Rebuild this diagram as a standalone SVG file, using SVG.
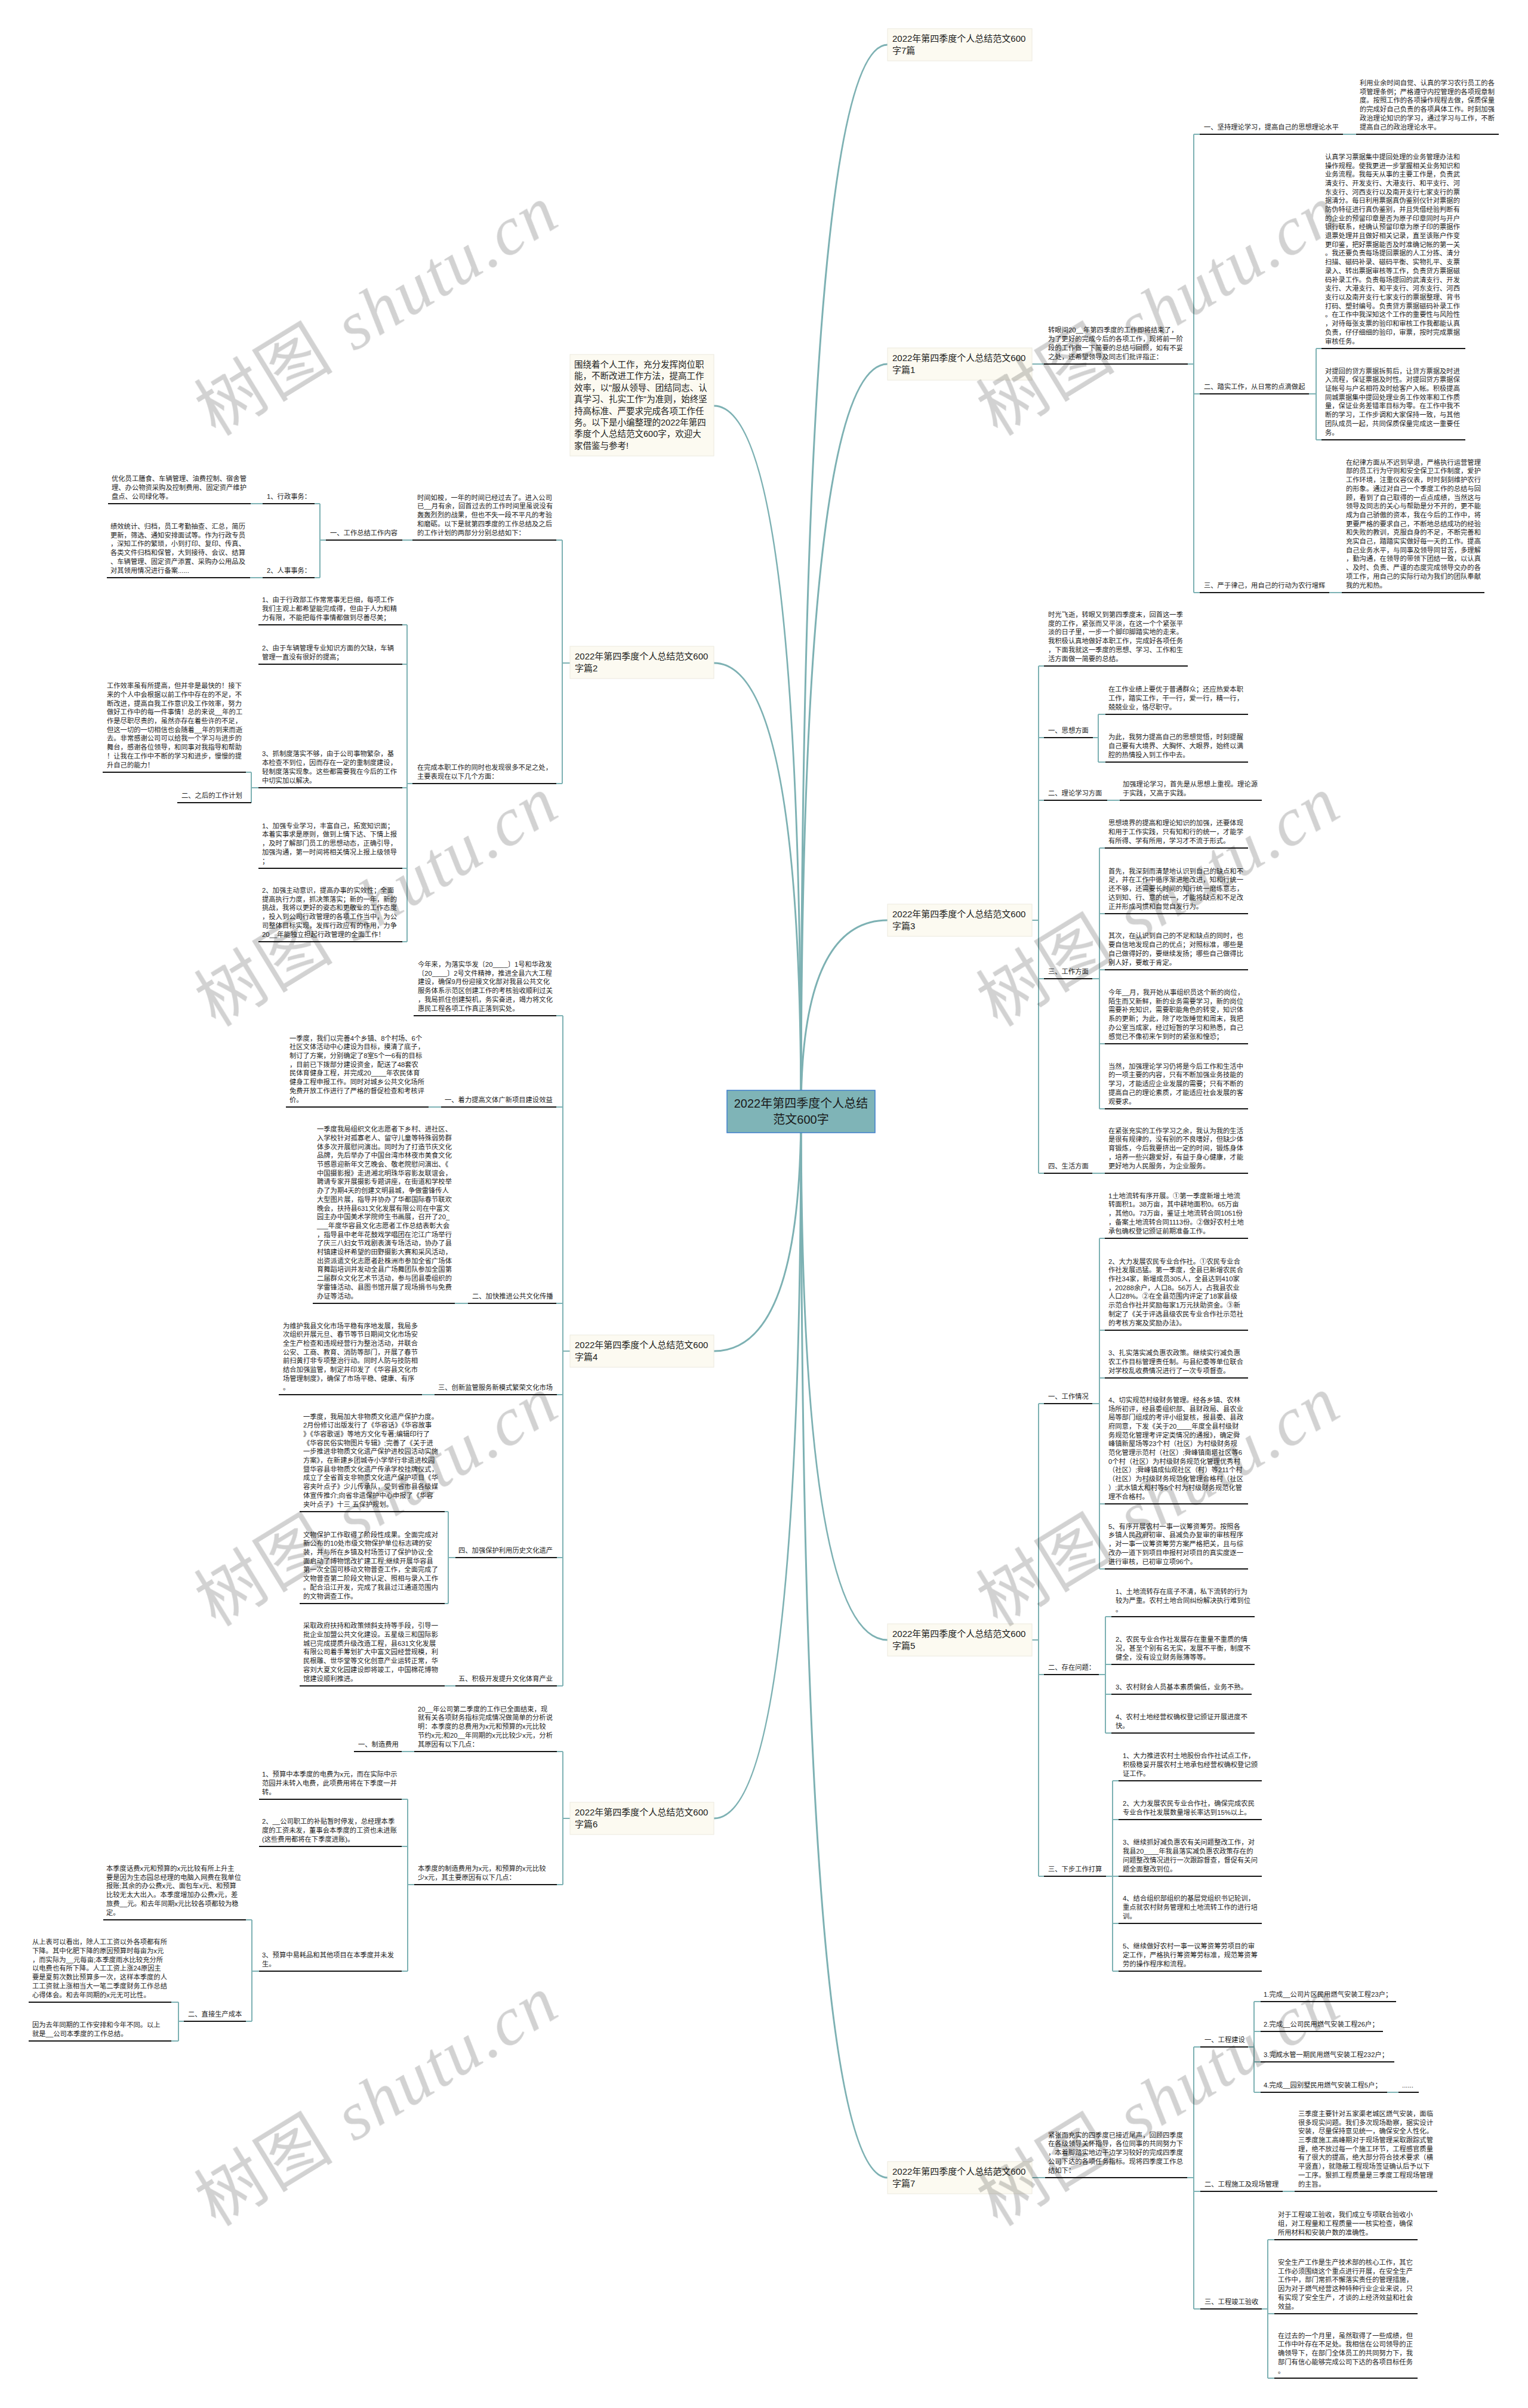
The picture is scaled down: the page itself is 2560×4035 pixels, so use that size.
<svg xmlns="http://www.w3.org/2000/svg" width="2560" height="4035" viewBox="0 0 2560 4035">
<style>
text{font-family:"Liberation Sans","Noto Sans CJK SC",sans-serif;fill:#222}
.t{font-size:11.3px}
.n{font-size:15px;fill:#1a1a1a}
.ti{font-size:14.5px}
.root{font-size:20px;text-anchor:middle;fill:#1a1a1a}
.u{stroke:#161616;stroke-width:2}
.c{stroke:#7db1b3;stroke-width:2;fill:none}
.m{stroke:#7db1b3;stroke-width:3;fill:none}
.box{fill:#fcfaf1;stroke:#ece9de;stroke-width:1}
.wm{font-size:115px;fill:#d2d2d2}
.wm .l{font-family:"Liberation Serif",serif;font-style:italic}
</style>
<rect width="2560" height="4035" fill="#ffffff"/>

<g id="connectors">
<path class="m" d="M1342,1862 Q1342,75 1487,75"/>
<path class="m" d="M1342,1862 Q1342,610 1487,610"/>
<path class="m" d="M1342,1862 Q1342,1542 1487,1542"/>
<path class="m" d="M1342,1862 Q1342,2748 1487,2748"/>
<path class="m" d="M1342,1862 Q1342,3649 1487,3649"/>
<path class="m" d="M1342,1862 Q1342,680 1196,680"/>
<path class="m" d="M1342,1862 Q1342,1111 1196,1111"/>
<path class="m" d="M1342,1862 Q1342,2264 1196,2264"/>
<path class="m" d="M1342,1862 Q1342,3047 1196,3047"/>
<!-- 篇1 -->
<path class="c" d="M1729,610H1749M1990,610H2000M2000,225V993M2000,225H2010M2000,660H2010M2000,993H2010M2250,225H2272M2193,660H2205M2205,584V737M2205,584H2214M2205,737H2214M2227,993H2248"/>
<!-- 篇3 -->
<path class="c" d="M1729,1542H1740M1740,1116V1966M1740,1116H1749M1740,1236H1749M1740,1341H1749M1740,1640H1749M1740,1966H1749M1831,1236H1840M1840,1197V1277M1840,1197H1852M1840,1277H1852M1855,1341H1876M1830,1640H1842M1842,1421V1858M1842,1421H1851M1842,1531H1851M1842,1625H1851M1842,1749H1851M1842,1858H1851M1830,1966H1851"/>
<!-- 篇5 -->
<path class="c" d="M1729,2748H1740M1740,2352V3144M1740,2352H1749M1740,2806H1749M1740,3144H1749M1830,2352H1842M1842,2075V2629M1842,2075H1851M1842,2229H1851M1842,2309H1851M1842,2520H1851M1842,2629H1851M1841,2806H1852M1852,2709V2904M1852,2709H1862M1852,2789H1862M1852,2839H1862M1852,2904H1862M1853,3144H1864M1864,2984V3303M1864,2984H1874M1864,3049H1874M1864,3144H1874M1864,3223H1874M1864,3303H1874"/>
<!-- 篇7 -->
<path class="c" d="M1729,3649H1751M1989,3649H2000M2000,3430V3869M2000,3430H2011M2000,3672H2011M2000,3869H2011M2091,3430H2101M2101,3354V3506M2101,3354H2112M2101,3404H2112M2101,3455H2112M2101,3506H2112M2324,3506H2343M2149,3672H2169M2114,3869H2124M2124,3753V3985M2124,3753H2135M2124,3877H2135M2124,3985H2135"/>
<!-- 篇2 -->
<path class="c" d="M955,1111H942M942,905V1313M942,905H932M942,1313H932M691,905H674M546,905H536M536,844V968M536,844H527M536,968H527M440,844H420M440,968H419M691,1313H682M682,1047V1578M682,1047H674M682,1113H674M682,1320H674M682,1455H674M682,1578H674M433,1320H421M421,1294V1345M421,1294H412"/>
<!-- 篇4 -->
<path class="c" d="M955,2264H943M943,1702V2825M943,1702H932M943,1855H932M943,2184H932M943,2337H933M943,2610H933M943,2825H933M739,1855H718M784,2184H762M728,2337H707M763,2610H751M751,2533V2687M751,2533H745M751,2687H745M763,2825H745"/>
<!-- 篇6 -->
<path class="c" d="M955,3047H943M943,2935V3158M943,2935H933M943,3158H933M694,2935H673M694,3158H683M683,3015V3303M683,3015H673M683,3094H673M683,3303H673M434,3303H422M422,3217V3387M422,3217H412M422,3387H412M308,3387H299M299,3355V3420M299,3355H287M299,3420H287"/>
</g>

<g id="root">
<rect x="1218" y="1827" width="248" height="71" fill="#7fb4b7" stroke="#3f7fcc" stroke-width="1.5"/>
<text class="root" x="1342" y="1856">2022年第四季度个人总结</text>
<text class="root" x="1342" y="1883">范文600字</text>
</g>

<g id="intro">
<rect class="box" x="955" y="594" width="241" height="170"/>
<text class="ti" x="962" y="616"><tspan x="962">围绕着个人工作，充分发挥岗位职</tspan><tspan x="962" dy="19.4">能，不断改进工作方法，提高工作</tspan><tspan x="962" dy="19.4">效率，以"服从领导、团结同志、认</tspan><tspan x="962" dy="19.4">真学习、扎实工作"为准则，始终坚</tspan><tspan x="962" dy="19.4">持高标准、严要求完成各项工作任</tspan><tspan x="962" dy="19.4">务。以下是小编整理的2022年第四</tspan><tspan x="962" dy="19.4">季度个人总结范文600字，欢迎大</tspan><tspan x="962" dy="19.4">家借鉴与参考!</tspan></text>
</g>

<g id="n7pian"><rect class="box" x="1487" y="48" width="242" height="54"/><text class="n" x="1495" y="70"><tspan x="1495">2022年第四季度个人总结范文600</tspan><tspan x="1495" dy="19.5">字7篇</tspan></text></g>
<g id="n1"><rect class="box" x="1487" y="583" width="242" height="54"/><text class="n" x="1495" y="605"><tspan x="1495">2022年第四季度个人总结范文600</tspan><tspan x="1495" dy="19.5">字篇1</tspan></text></g>
<g id="n3"><rect class="box" x="1487" y="1515" width="242" height="54"/><text class="n" x="1495" y="1537"><tspan x="1495">2022年第四季度个人总结范文600</tspan><tspan x="1495" dy="19.5">字篇3</tspan></text></g>
<g id="n5"><rect class="box" x="1487" y="2721" width="242" height="54"/><text class="n" x="1495" y="2743"><tspan x="1495">2022年第四季度个人总结范文600</tspan><tspan x="1495" dy="19.5">字篇5</tspan></text></g>
<g id="n7"><rect class="box" x="1487" y="3622" width="242" height="54"/><text class="n" x="1495" y="3644"><tspan x="1495">2022年第四季度个人总结范文600</tspan><tspan x="1495" dy="19.5">字篇7</tspan></text></g>
<g id="n2"><rect class="box" x="955" y="1083" width="241" height="54"/><text class="n" x="963" y="1105"><tspan x="963">2022年第四季度个人总结范文600</tspan><tspan x="963" dy="19.5">字篇2</tspan></text></g>
<g id="n4"><rect class="box" x="955" y="2237" width="241" height="54"/><text class="n" x="963" y="2259"><tspan x="963">2022年第四季度个人总结范文600</tspan><tspan x="963" dy="19.5">字篇4</tspan></text></g>
<g id="n6"><rect class="box" x="955" y="3020" width="241" height="54"/><text class="n" x="963" y="3042"><tspan x="963">2022年第四季度个人总结范文600</tspan><tspan x="963" dy="19.5">字篇6</tspan></text></g>

<!-- 篇1 -->
<g id="p1-intro"><text class="t" x="1756" y="557.4"><tspan x="1756">转眼间20__年第四季度的工作即将结束了，</tspan><tspan x="1756" dy="14.7">为了更好的完成今后的各项工作，现将前一阶</tspan><tspan x="1756" dy="14.7">段的工作做一下简要的总结与回顾，如有不妥</tspan><tspan x="1756" dy="14.7">之处，还希望领导及同志们批评指正：</tspan></text><line class="u" x1="1749" y1="610" x2="1990" y2="610"/></g>
<g id="p1-l1"><text class="t" x="2017" y="217">一、坚持理论学习，提高自己的思想理论水平</text><line class="u" x1="2010" y1="225" x2="2250" y2="225"/></g>
<g id="p1-l1b"><text class="t" x="2278" y="143"><tspan x="2278">利用业余时间自觉、认真的学习农行员工的各</tspan><tspan x="2278" dy="14.7">项管理条例；严格遵守内控管理的各项规章制</tspan><tspan x="2278" dy="14.7">度。按照工作的各项操作规程去做，保质保量</tspan><tspan x="2278" dy="14.7">的完成好自己负责的各项具体工作。时刻加强</tspan><tspan x="2278" dy="14.7">政治理论知识的学习，通过学习与工作，不断</tspan><tspan x="2278" dy="14.7">提高自己的政治理论水平。</tspan></text><line class="u" x1="2272" y1="225" x2="2511" y2="225"/></g>
<g id="p1-l2"><text class="t" x="2017" y="652">二、踏实工作，从日常的点滴做起</text><line class="u" x1="2010" y1="660" x2="2193" y2="660"/></g>
<g id="p1-l2a"><text class="t" x="2220" y="266.8"><tspan x="2220">认真学习票据集中提回处理的业务管理办法和</tspan><tspan x="2220" dy="14.7">操作规程。使我更进一步掌握相关业务知识和</tspan><tspan x="2220" dy="14.7">业务流程。我每天从事的主要工作是，负责武</tspan><tspan x="2220" dy="14.7">清支行、开发支行、大港支行、和平支行、河</tspan><tspan x="2220" dy="14.7">东支行、河西支行以及南开支行七家支行的票</tspan><tspan x="2220" dy="14.7">据清分。每日利用票据真伪鉴别仪针对票据的</tspan><tspan x="2220" dy="14.7">防伪特征进行真伪鉴别，并且凭借经验判断有</tspan><tspan x="2220" dy="14.7">的企业的预留印章是否为原子印章同时与开户</tspan><tspan x="2220" dy="14.7">银行联系，经确认预留印章为原子印的票据作</tspan><tspan x="2220" dy="14.7">退票处理并且做好相关记录，直至该账户作变</tspan><tspan x="2220" dy="14.7">更印鉴，把好票据能否及时准确记帐的第一关</tspan><tspan x="2220" dy="14.7">。我还要负责每场提回票据的人工分拣、清分</tspan><tspan x="2220" dy="14.7">扫描、磁码补录、磁码平衡、实物扎平、支票</tspan><tspan x="2220" dy="14.7">录入、转出票据审核等工作，负责贷方票据磁</tspan><tspan x="2220" dy="14.7">码补录工作。负责每场提回的武清支行、开发</tspan><tspan x="2220" dy="14.7">支行、大港支行、和平支行、河东支行、河西</tspan><tspan x="2220" dy="14.7">支行以及南开支行七家支行的票据整理、背书</tspan><tspan x="2220" dy="14.7">打码、塑封编号。负责贷方票据磁码补录工作</tspan><tspan x="2220" dy="14.7">。在工作中我深知这个工作的重要性与风险性</tspan><tspan x="2220" dy="14.7">，对待每张支票的验印和审核工作我都能认真</tspan><tspan x="2220" dy="14.7">负责，仔仔细细的验印，审票，按时完成票据</tspan><tspan x="2220" dy="14.7">审核任务。</tspan></text><line class="u" x1="2214" y1="584" x2="2455" y2="584"/></g>
<g id="p1-l2b"><text class="t" x="2220" y="625.6"><tspan x="2220">对提回的贷方票据拆剪后，让贷方票据及时进</tspan><tspan x="2220" dy="14.7">入流程，保证票据及时性。对提回贷方票据保</tspan><tspan x="2220" dy="14.7">证帐号与户名相符及时给客户入帐。积极提高</tspan><tspan x="2220" dy="14.7">同城票据集中提回处理业务工作效率和工作质</tspan><tspan x="2220" dy="14.7">量，保证业务差错率目标为零。在工作中我不</tspan><tspan x="2220" dy="14.7">断的学习，工作步调和大家保持一致，与其他</tspan><tspan x="2220" dy="14.7">团队成员一起，共同保质保量完成这一重要任</tspan><tspan x="2220" dy="14.7">务。</tspan></text><line class="u" x1="2214" y1="737" x2="2455" y2="737"/></g>
<g id="p1-l3"><text class="t" x="2017" y="985">三、严于律己，用自己的行动为农行增辉</text><line class="u" x1="2010" y1="993" x2="2227" y2="993"/></g>
<g id="p1-l3b"><text class="t" x="2255" y="778.7"><tspan x="2255">在纪律方面从不迟到早退，严格执行运营管理</tspan><tspan x="2255" dy="14.7">部的员工行为守则和安全保卫工作制度，爱护</tspan><tspan x="2255" dy="14.7">工作环境，注重仪容仪表，时时刻刻维护农行</tspan><tspan x="2255" dy="14.7">的形象。通过对自己一个季度工作的总结与回</tspan><tspan x="2255" dy="14.7">顾，看到了自己取得的一点点成绩，当然这与</tspan><tspan x="2255" dy="14.7">领导及同志的关心与帮助是分不开的，更不能</tspan><tspan x="2255" dy="14.7">成为自己骄傲的资本，我在今后的工作中，将</tspan><tspan x="2255" dy="14.7">更要严格的要求自己，不断地总结成功的经验</tspan><tspan x="2255" dy="14.7">和失败的教训，克服自身的不足，不断完善和</tspan><tspan x="2255" dy="14.7">充实自己，踏踏实实做好每一天的工作。提高</tspan><tspan x="2255" dy="14.7">自己业务水平，与同事及领导同甘苦，多理解</tspan><tspan x="2255" dy="14.7">，勤沟通，在领导的带领下团结一致，以认真</tspan><tspan x="2255" dy="14.7">、及时、负责、严谨的态度完成领导交办的各</tspan><tspan x="2255" dy="14.7">项工作，用自己的实际行动为我们的团队奉献</tspan><tspan x="2255" dy="14.7">我的光和热。</tspan></text><line class="u" x1="2248" y1="993" x2="2487" y2="993"/></g>

<!-- 篇3 -->
<g id="p3-intro"><text class="t" x="1756" y="1034"><tspan x="1756">时光飞逝，转眼又到第四季度末，回首这一季</tspan><tspan x="1756" dy="14.7">度的工作，紧张而又平淡，在这一个个紧张平</tspan><tspan x="1756" dy="14.7">淡的日子里，一步一个脚印脚踏实地的走来。</tspan><tspan x="1756" dy="14.7">我积极认真地做好本职工作，完成好各项任务</tspan><tspan x="1756" dy="14.7">，下面我就这一季度的思想、学习、工作和生</tspan><tspan x="1756" dy="14.7">活方面做一简要的总结。</tspan></text><line class="u" x1="1749" y1="1116" x2="1990" y2="1116"/></g>
<g id="p3-l1"><text class="t" x="1756" y="1228">一、思想方面</text><line class="u" x1="1749" y1="1236" x2="1831" y2="1236"/></g>
<g id="p3-l1a"><text class="t" x="1857" y="1159.1"><tspan x="1857">在工作业绩上要优于普通群众；还应热爱本职</tspan><tspan x="1857" dy="14.7">工作，踏实工作，干一行，爱一行，精一行，</tspan><tspan x="1857" dy="14.7">兢兢业业，恪尽职守。</tspan></text><line class="u" x1="1852" y1="1197" x2="2091" y2="1197"/></g>
<g id="p3-l1b"><text class="t" x="1857" y="1239.1"><tspan x="1857">为此，我努力提高自己的思想觉悟，时刻提醒</tspan><tspan x="1857" dy="14.7">自己要有大境界、大胸怀、大眼界，始终以满</tspan><tspan x="1857" dy="14.7">腔的热情投入到工作中去。</tspan></text><line class="u" x1="1852" y1="1277" x2="2091" y2="1277"/></g>
<g id="p3-l2"><text class="t" x="1756" y="1333">二、理论学习方面</text><line class="u" x1="1749" y1="1341" x2="1855" y2="1341"/></g>
<g id="p3-l2a"><text class="t" x="1881" y="1317.8"><tspan x="1881">加强理论学习，首先是从思想上重视。理论源</tspan><tspan x="1881" dy="14.7">于实践，又高于实践。</tspan></text><line class="u" x1="1876" y1="1341" x2="2114" y2="1341"/></g>
<g id="p3-l3"><text class="t" x="1756" y="1632">三、工作方面</text><line class="u" x1="1749" y1="1640" x2="1830" y2="1640"/></g>
<g id="p3-l3a"><text class="t" x="1857" y="1383.1"><tspan x="1857">思想境界的提高和理论知识的加强，还要体现</tspan><tspan x="1857" dy="14.7">和用于工作实践，只有知和行的统一，才能学</tspan><tspan x="1857" dy="14.7">有所得、学有所用，学习才不流于形式。</tspan></text><line class="u" x1="1851" y1="1421" x2="2091" y2="1421"/></g>
<g id="p3-l3b"><text class="t" x="1857" y="1463.7"><tspan x="1857">首先，我深刻而清楚地认识到自己的缺点和不</tspan><tspan x="1857" dy="14.7">足，并在工作中循序渐进地改进，知和行统一</tspan><tspan x="1857" dy="14.7">还不够，还需要长时间的知行统一磨练意志，</tspan><tspan x="1857" dy="14.7">达到知、行、意的统一，才能将缺点和不足改</tspan><tspan x="1857" dy="14.7">正并形成习惯和自觉自发行为。</tspan></text><line class="u" x1="1851" y1="1531" x2="2091" y2="1531"/></g>
<g id="p3-l3c"><text class="t" x="1857" y="1572.4"><tspan x="1857">其次，在认识到自己的不足和缺点的同时，也</tspan><tspan x="1857" dy="14.7">要自信地发现自己的优点；对照标准，哪些是</tspan><tspan x="1857" dy="14.7">自己做得好的，要继续发扬；哪些自己做得比</tspan><tspan x="1857" dy="14.7">别人好，要敢于肯定。</tspan></text><line class="u" x1="1851" y1="1625" x2="2091" y2="1625"/></g>
<g id="p3-l3d"><text class="t" x="1857" y="1667"><tspan x="1857">今年__月，我开始从事组织员这个新的岗位，</tspan><tspan x="1857" dy="14.7">陌生而又新鲜，新的业务需要学习，新的岗位</tspan><tspan x="1857" dy="14.7">需要补充知识，需要职能角色的转变，知识体</tspan><tspan x="1857" dy="14.7">系的更新；为此，除了吃饭睡觉和周末，我把</tspan><tspan x="1857" dy="14.7">办公室当成家，经过短暂的学习和熟悉，自己</tspan><tspan x="1857" dy="14.7">感觉已不像初来乍到时的紧张和惶恐；</tspan></text><line class="u" x1="1851" y1="1749" x2="2091" y2="1749"/></g>
<g id="p3-l3e"><text class="t" x="1857" y="1790.7"><tspan x="1857">当然，加强理论学习仍将是今后工作和生活中</tspan><tspan x="1857" dy="14.7">的一项主要的内容，只有不断加强业务技能的</tspan><tspan x="1857" dy="14.7">学习，才能适应企业发展的需要；只有不断的</tspan><tspan x="1857" dy="14.7">提高自己的理论素质，才能适应社会发展的客</tspan><tspan x="1857" dy="14.7">观要求。</tspan></text><line class="u" x1="1851" y1="1858" x2="2091" y2="1858"/></g>
<g id="p3-l4"><text class="t" x="1756" y="1958">四、生活方面</text><line class="u" x1="1749" y1="1966" x2="1830" y2="1966"/></g>
<g id="p3-l4a"><text class="t" x="1857" y="1898.7"><tspan x="1857">在紧张充实的工作学习之余，我认为我的生活</tspan><tspan x="1857" dy="14.7">是很有规律的，没有别的不良嗜好，但缺少体</tspan><tspan x="1857" dy="14.7">育锻炼，今后我要挤出一定的时间，锻炼身体</tspan><tspan x="1857" dy="14.7">，培养一些兴趣爱好，有益于身心健康，才能</tspan><tspan x="1857" dy="14.7">更好地为人民服务，为企业服务。</tspan></text><line class="u" x1="1851" y1="1966" x2="2091" y2="1966"/></g>

<!-- 篇5 -->
<g id="p5-l1"><text class="t" x="1756" y="2344">一、工作情况</text><line class="u" x1="1749" y1="2352" x2="1830" y2="2352"/></g>
<g id="p5-l1a"><text class="t" x="1857" y="2007.7"><tspan x="1857">1土地流转有序开展。①第一季度新增土地流</tspan><tspan x="1857" dy="14.7">转面积1。38万亩，其中耕地面积0。65万亩</tspan><tspan x="1857" dy="14.7">，其他0。73万亩，鉴证土地流转合同1051份</tspan><tspan x="1857" dy="14.7">，备案土地流转合同1113份。②做好农村土地</tspan><tspan x="1857" dy="14.7">承包确权登记颁证前期准备工作。</tspan></text><line class="u" x1="1851" y1="2075" x2="2091" y2="2075"/></g>
<g id="p5-l1b"><text class="t" x="1857" y="2117.6"><tspan x="1857">2、大力发展农民专业合作社。①农民专业合</tspan><tspan x="1857" dy="14.7">作社发展迅猛。第一季度，全县已新增农民合</tspan><tspan x="1857" dy="14.7">作社34家，新增成员305人，全县达到410家</tspan><tspan x="1857" dy="14.7">，20288余户，人口8。56万人，占我县农业</tspan><tspan x="1857" dy="14.7">人口28%。②在全县范围内评定了18家县级</tspan><tspan x="1857" dy="14.7">示范合作社并奖励每家1万元扶助资金。③新</tspan><tspan x="1857" dy="14.7">制定了《关于评选县级农民专业合作社示范社</tspan><tspan x="1857" dy="14.7">的考核方案及奖励办法》。</tspan></text><line class="u" x1="1851" y1="2229" x2="2091" y2="2229"/></g>
<g id="p5-l1c"><text class="t" x="1857" y="2271.1"><tspan x="1857">3、扎实落实减负惠农政策。继续实行减负惠</tspan><tspan x="1857" dy="14.7">农工作目标管理责任制。与县纪委等单位联合</tspan><tspan x="1857" dy="14.7">对学校乱收费情况进行了一次专项督查。</tspan></text><line class="u" x1="1851" y1="2309" x2="2091" y2="2309"/></g>
<g id="p5-l1d"><text class="t" x="1857" y="2349.8"><tspan x="1857">4、切实规范村级财务管理。经各乡镇、农林</tspan><tspan x="1857" dy="14.7">场所初评，经县委组织部、县财政局、县农业</tspan><tspan x="1857" dy="14.7">局等部门组成的考评小组复核，报县委、县政</tspan><tspan x="1857" dy="14.7">府同意，下发《关于20____年度全县村级财</tspan><tspan x="1857" dy="14.7">务规范化管理考评定类情况的通报》，确定舜</tspan><tspan x="1857" dy="14.7">峰镇新屋场等23个村（社区）为村级财务规</tspan><tspan x="1857" dy="14.7">范化管理示范村（社区）;舜峰镇南塔社区等6</tspan><tspan x="1857" dy="14.7">0个村（社区）为村级财务规范化管理优秀村</tspan><tspan x="1857" dy="14.7">（社区）;舜峰镇成仙观社区（村）等211个村</tspan><tspan x="1857" dy="14.7">（社区）为村级财务规范化管理合格村（社区</tspan><tspan x="1857" dy="14.7">）;武水镇太和村等5个村为村级财务规范化管</tspan><tspan x="1857" dy="14.7">理不合格村。</tspan></text><line class="u" x1="1851" y1="2520" x2="2091" y2="2520"/></g>
<g id="p5-l1e"><text class="t" x="1857" y="2561.7"><tspan x="1857">5、有序开展农村一事一议筹资筹劳。按照各</tspan><tspan x="1857" dy="14.7">乡镇人民政府初审、县减负办复审的审核程序</tspan><tspan x="1857" dy="14.7">，对一事一议筹资筹劳方案严格把关，且与综</tspan><tspan x="1857" dy="14.7">改办一道下到项目申报村对项目的真实度逐一</tspan><tspan x="1857" dy="14.7">进行审核，已初审立项96个。</tspan></text><line class="u" x1="1851" y1="2629" x2="2091" y2="2629"/></g>
<g id="p5-l2"><text class="t" x="1756" y="2798">二、存在问题：</text><line class="u" x1="1749" y1="2806" x2="1841" y2="2806"/></g>
<g id="p5-l2a"><text class="t" x="1869" y="2671.1"><tspan x="1869">1、土地流转存在底子不清，私下流转的行为</tspan><tspan x="1869" dy="14.7">较为严重。农村土地合同纠纷解决执行难到位</tspan><tspan x="1869" dy="14.7">。</tspan></text><line class="u" x1="1862" y1="2709" x2="2102" y2="2709"/></g>
<g id="p5-l2b"><text class="t" x="1869" y="2751.1"><tspan x="1869">2、农民专业合作社发展存在重量不重质的情</tspan><tspan x="1869" dy="14.7">况，甚至个别有名无实，发展不平衡，制度不</tspan><tspan x="1869" dy="14.7">健全，没有设立财务账簿等等。</tspan></text><line class="u" x1="1862" y1="2789" x2="2102" y2="2789"/></g>
<g id="p5-l2c"><text class="t" x="1869" y="2830.5">3、农村财会人员基本素质偏低，业务不熟。</text><line class="u" x1="1862" y1="2839" x2="2097" y2="2839"/></g>
<g id="p5-l2d"><text class="t" x="1869" y="2880.8"><tspan x="1869">4、农村土地经营权确权登记颁证开展进度不</tspan><tspan x="1869" dy="14.7">快。</tspan></text><line class="u" x1="1862" y1="2904" x2="2102" y2="2904"/></g>
<g id="p5-l3"><text class="t" x="1756" y="3136">三、下步工作打算</text><line class="u" x1="1749" y1="3144" x2="1853" y2="3144"/></g>
<g id="p5-l3a"><text class="t" x="1881" y="2946.1"><tspan x="1881">1、大力推进农村土地股份合作社试点工作，</tspan><tspan x="1881" dy="14.7">积极稳妥开展农村土地承包经营权确权登记颁</tspan><tspan x="1881" dy="14.7">证工作。</tspan></text><line class="u" x1="1874" y1="2984" x2="2114" y2="2984"/></g>
<g id="p5-l3b"><text class="t" x="1881" y="3025.8"><tspan x="1881">2、大力发展农民专业合作社，确保完成农民</tspan><tspan x="1881" dy="14.7">专业合作社发展数量增长率达到15%以上。</tspan></text><line class="u" x1="1874" y1="3049" x2="2114" y2="3049"/></g>
<g id="p5-l3c"><text class="t" x="1881" y="3091.4"><tspan x="1881">3、继续抓好减负惠农有关问题整改工作，对</tspan><tspan x="1881" dy="14.7">我县20____年我县落实减负惠农政策存在的</tspan><tspan x="1881" dy="14.7">问题整改情况进行一次跟踪督查，督促有关问</tspan><tspan x="1881" dy="14.7">题全面整改到位。</tspan></text><line class="u" x1="1874" y1="3144" x2="2114" y2="3144"/></g>
<g id="p5-l3d"><text class="t" x="1881" y="3185.1"><tspan x="1881">4、结合组织部组织的基层党组织书记轮训，</tspan><tspan x="1881" dy="14.7">重点就农村财务管理和土地流转工作的进行培</tspan><tspan x="1881" dy="14.7">训。</tspan></text><line class="u" x1="1874" y1="3223" x2="2114" y2="3223"/></g>
<g id="p5-l3e"><text class="t" x="1881" y="3265.1"><tspan x="1881">5、继续做好农村一事一议筹资筹劳项目的审</tspan><tspan x="1881" dy="14.7">定工作，严格执行筹资筹劳标准，规范筹资筹</tspan><tspan x="1881" dy="14.7">劳的操作程序和流程。</tspan></text><line class="u" x1="1874" y1="3303" x2="2114" y2="3303"/></g>

<!-- 篇7 -->
<g id="p7-intro"><text class="t" x="1756" y="3581.7"><tspan x="1756">紧张而充实的四季度已接近尾声，回顾四季度</tspan><tspan x="1756" dy="14.7">在各级领导关怀指导，各位同事的共同努力下</tspan><tspan x="1756" dy="14.7">，本着脚踏实地边干边学习较好的完成四季度</tspan><tspan x="1756" dy="14.7">公司下达的各项任务指标。现将四季度工作总</tspan><tspan x="1756" dy="14.7">结如下：</tspan></text><line class="u" x1="1751" y1="3649" x2="1989" y2="3649"/></g>
<g id="p7-l1"><text class="t" x="2018" y="3422">一、工程建设</text><line class="u" x1="2011" y1="3430" x2="2091" y2="3430"/></g>
<g id="p7-l1a"><text class="t" x="2117" y="3346">1.完成__公司片区民用燃气安装工程23户；</text><line class="u" x1="2112" y1="3354" x2="2339" y2="3354"/></g>
<g id="p7-l1b"><text class="t" x="2117" y="3396">2.完成__公司民用燃气安装工程26户；</text><line class="u" x1="2112" y1="3404" x2="2317" y2="3404"/></g>
<g id="p7-l1c"><text class="t" x="2117" y="3447">3.完成水管一期民用燃气安装工程232户；</text><line class="u" x1="2112" y1="3455" x2="2336" y2="3455"/></g>
<g id="p7-l1d"><text class="t" x="2117" y="3498">4.完成__园别墅民用燃气安装工程5户；</text><line class="u" x1="2112" y1="3506" x2="2324" y2="3506"/></g>
<g id="p7-l1e"><text class="t" x="2349" y="3498">......</text><line class="u" x1="2343" y1="3506" x2="2377" y2="3506"/></g>
<g id="p7-l2"><text class="t" x="2018" y="3664">二、工程施工及现场管理</text><line class="u" x1="2011" y1="3672" x2="2149" y2="3672"/></g>
<g id="p7-l2a"><text class="t" x="2175" y="3545.9"><tspan x="2175">三季度主要针对五家渠老城区燃气安装，面临</tspan><tspan x="2175" dy="14.7">很多现实问题。我们多次现场勘察，据实设计</tspan><tspan x="2175" dy="14.7">安装，尽量保持意见统一，确保安全人性化。</tspan><tspan x="2175" dy="14.7">三季度施工高峰期对于现场管理采取跟踪式管</tspan><tspan x="2175" dy="14.7">理，绝不放过每一个施工环节，工程感官质量</tspan><tspan x="2175" dy="14.7">有了很大的提高，绝大部分符合技术要求（横</tspan><tspan x="2175" dy="14.7">平竖直），就隐蔽工程现场签证确认后予以下</tspan><tspan x="2175" dy="14.7">一工序。狠抓工程质量是三季度工程现场管理</tspan><tspan x="2175" dy="14.7">的主旨。</tspan></text><line class="u" x1="2169" y1="3672" x2="2408" y2="3672"/></g>
<g id="p7-l3"><text class="t" x="2018" y="3861">三、工程竣工验收</text><line class="u" x1="2011" y1="3869" x2="2114" y2="3869"/></g>
<g id="p7-l3a"><text class="t" x="2141" y="3715.1"><tspan x="2141">对于工程竣工验收，我们成立专项联合验收小</tspan><tspan x="2141" dy="14.7">组，对工程量和工程质量一一核实检查，确保</tspan><tspan x="2141" dy="14.7">所用材料和安装户数的准确性。</tspan></text><line class="u" x1="2135" y1="3753" x2="2375" y2="3753"/></g>
<g id="p7-l3b"><text class="t" x="2141" y="3795"><tspan x="2141">安全生产工作是生产技术部的核心工作，其它</tspan><tspan x="2141" dy="14.7">工作必须围绕这个重点进行开展，在安全生产</tspan><tspan x="2141" dy="14.7">工作中，部门常抓不懈落实责任的管理措施，</tspan><tspan x="2141" dy="14.7">因为对于燃气经营这种特种行业企业来说，只</tspan><tspan x="2141" dy="14.7">有实现了安全生产，才谈的上经济效益和社会</tspan><tspan x="2141" dy="14.7">效益。</tspan></text><line class="u" x1="2135" y1="3877" x2="2375" y2="3877"/></g>
<g id="p7-l3c"><text class="t" x="2141" y="3917.7"><tspan x="2141">在过去的一个月里，虽然取得了一些成绩，但</tspan><tspan x="2141" dy="14.7">工作中叶存在不足处。我相信在公司领导的正</tspan><tspan x="2141" dy="14.7">确领导下，在部门全体员工的共同努力下，我</tspan><tspan x="2141" dy="14.7">部门有信心能够完成公司下达的各项目标任务</tspan><tspan x="2141" dy="14.7">。</tspan></text><line class="u" x1="2135" y1="3985" x2="2375" y2="3985"/></g>

<!-- 篇2 -->
<g id="p2-intro"><text class="t" x="699" y="837.7"><tspan x="699">时间如梭，一年的时间已经过去了。进入公司</tspan><tspan x="699" dy="14.7">已__月有余，回首过去的工作时间里虽说没有</tspan><tspan x="699" dy="14.7">轰轰烈烈的战果，但也不失一段不平凡的考验</tspan><tspan x="699" dy="14.7">和磨砺。以下是就第四季度的工作总结及之后</tspan><tspan x="699" dy="14.7">的工作计划的两部分分别总结如下：</tspan></text><line class="u" x1="691" y1="905" x2="932" y2="905"/></g>
<g id="p2-l1"><text class="t" x="553" y="897">一、工作总结工作内容</text><line class="u" x1="546" y1="905" x2="674" y2="905"/></g>
<g id="p2-l1a"><text class="t" x="447" y="836">1、行政事务：</text><line class="u" x1="440" y1="844" x2="527" y2="844"/></g>
<g id="p2-l1a1"><text class="t" x="187" y="806.1"><tspan x="187">优化员工膳食、车辆管理、油费控制、宿舍管</tspan><tspan x="187" dy="14.7">理、办公物资采购及控制费用、固定资产维护</tspan><tspan x="187" dy="14.7">盘点、公司绿化等。</tspan></text><line class="u" x1="181" y1="844" x2="420" y2="844"/></g>
<g id="p2-l1b"><text class="t" x="447" y="960">2、人事事务：</text><line class="u" x1="440" y1="968" x2="527" y2="968"/></g>
<g id="p2-l1b1"><text class="t" x="185" y="886"><tspan x="185">绩效统计、归档，员工考勤抽查、汇总，简历</tspan><tspan x="185" dy="14.7">更新，筛选、通知安排面试等。作为行政专员</tspan><tspan x="185" dy="14.7">，深知工作的繁琐，小到打印、复印、传真、</tspan><tspan x="185" dy="14.7">各类文件归档和保管，大到接待、会议、结算</tspan><tspan x="185" dy="14.7">、车辆管理、固定资产添置、采购办公用品及</tspan><tspan x="185" dy="14.7">对其领用情况进行备案......</tspan></text><line class="u" x1="179" y1="968" x2="419" y2="968"/></g>
<g id="p2-l2"><text class="t" x="699" y="1289.8"><tspan x="699">在完成本职工作的同时也发现很多不足之处，</tspan><tspan x="699" dy="14.7">主要表现在以下几个方面：</tspan></text><line class="u" x1="691" y1="1313" x2="932" y2="1313"/></g>
<g id="p2-l2a"><text class="t" x="439" y="1009.1"><tspan x="439">1、由于行政部工作常常事无巨细，每项工作</tspan><tspan x="439" dy="14.7">我们主观上都希望能完成得，但由于人力和精</tspan><tspan x="439" dy="14.7">力有限，不能把每件事情都做到尽善尽美；</tspan></text><line class="u" x1="433" y1="1047" x2="674" y2="1047"/></g>
<g id="p2-l2b"><text class="t" x="439" y="1089.8"><tspan x="439">2、由于车辆管理专业知识方面的欠缺，车辆</tspan><tspan x="439" dy="14.7">管理一直没有很好的提高；</tspan></text><line class="u" x1="433" y1="1113" x2="674" y2="1113"/></g>
<g id="p2-l2c"><text class="t" x="439" y="1267.4"><tspan x="439">3、抓制度落实不够，由于公司事物繁杂，基</tspan><tspan x="439" dy="14.7">本检查不到位，因而存在一定的重制度建设，</tspan><tspan x="439" dy="14.7">轻制度落实现象。这些都需要我在今后的工作</tspan><tspan x="439" dy="14.7">中切实加以解决。</tspan></text><line class="u" x1="433" y1="1320" x2="674" y2="1320"/></g>
<g id="p2-l2c1"><text class="t" x="179" y="1153.2"><tspan x="179">工作效率虽有所提高，但并非是最快的！接下</tspan><tspan x="179" dy="14.7">来的个人中会根据以前工作中存在的不足，不</tspan><tspan x="179" dy="14.7">断改进，提高自我工作意识及工作效率，努力</tspan><tspan x="179" dy="14.7">做好工作中的每一件事情！总的来说__年的工</tspan><tspan x="179" dy="14.7">作是尽职尽责的，虽然亦存在着些许的不足，</tspan><tspan x="179" dy="14.7">但这一切的一切相信也会随着__年的到来而逝</tspan><tspan x="179" dy="14.7">去。非常感谢公司可以给我一个学习与进步的</tspan><tspan x="179" dy="14.7">舞台，感谢各位领导，和同事对我指导和帮助</tspan><tspan x="179" dy="14.7">！让我在工作中不断的学习和进步，慢慢的提</tspan><tspan x="179" dy="14.7">升自己的能力！</tspan></text><line class="u" x1="172" y1="1294" x2="412" y2="1294"/></g>
<g id="p2-l2c2"><text class="t" x="304" y="1337">二、之后的工作计划</text><line class="u" x1="297" y1="1345" x2="421" y2="1345"/></g>
<g id="p2-l2d"><text class="t" x="439" y="1387.7"><tspan x="439">1、加强专业学习，丰富自己，拓宽知识面；</tspan><tspan x="439" dy="14.7">本着实事求是原则，做到上情下达、下情上报</tspan><tspan x="439" dy="14.7">，及时了解部门员工的思想动态，正确引导，</tspan><tspan x="439" dy="14.7">加强沟通，第一时间将相关情况上报上级领导</tspan><tspan x="439" dy="14.7">；</tspan></text><line class="u" x1="433" y1="1455" x2="674" y2="1455"/></g>
<g id="p2-l2e"><text class="t" x="439" y="1496"><tspan x="439">2、加强主动意识，提高办事的实效性；全面</tspan><tspan x="439" dy="14.7">提高执行力度，抓决策落实；新的一年，新的</tspan><tspan x="439" dy="14.7">挑战，我将以更好的姿态和更敬业的工作态度</tspan><tspan x="439" dy="14.7">，投入到公司行政管理的各项工作当中，为公</tspan><tspan x="439" dy="14.7">司整体目标实现，发挥行政应有的作用，力争</tspan><tspan x="439" dy="14.7">20__年能独立担起行政管理的全面工作！</tspan></text><line class="u" x1="433" y1="1578" x2="674" y2="1578"/></g>

<!-- 篇4 -->
<g id="p4-intro"><text class="t" x="700" y="1620"><tspan x="700">今年来，为落实华发〔20____〕1号和华政发</tspan><tspan x="700" dy="14.7">〔20____〕2号文件精神，推进全县六大工程</tspan><tspan x="700" dy="14.7">建设，确保9月份迎接文化部对我县公共文化</tspan><tspan x="700" dy="14.7">服务体系示范区创建工作的考核验收顺利过关</tspan><tspan x="700" dy="14.7">，我局抓住创建契机，务实奋进，竭力将文化</tspan><tspan x="700" dy="14.7">惠民工程各项工作真正落到实处。</tspan></text><line class="u" x1="693" y1="1702" x2="932" y2="1702"/></g>
<g id="p4-l1"><text class="t" x="745" y="1847">一、着力提高文体广新项目建设效益</text><line class="u" x1="739" y1="1855" x2="932" y2="1855"/></g>
<g id="p4-l1a"><text class="t" x="485" y="1743.6"><tspan x="485">一季度，我们以完善4个乡镇、8个村场、6个</tspan><tspan x="485" dy="14.7">社区文体活动中心建设为目标，摸清了底子，</tspan><tspan x="485" dy="14.7">制订了方案，分别确定了8室5个一6有的目标</tspan><tspan x="485" dy="14.7">，目前已下拨部分建设资金，配送了48套农</tspan><tspan x="485" dy="14.7">民体育健身工程，并完成20____年农民体育</tspan><tspan x="485" dy="14.7">健身工程申报工作。同时对城乡公共文化场所</tspan><tspan x="485" dy="14.7">免费开放工作进行了严格的督促检查和考核评</tspan><tspan x="485" dy="14.7">价。</tspan></text><line class="u" x1="479" y1="1855" x2="718" y2="1855"/></g>
<g id="p4-l2"><text class="t" x="791" y="2176">二、加快推进公共文化传播</text><line class="u" x1="784" y1="2184" x2="932" y2="2184"/></g>
<g id="p4-l2a"><text class="t" x="531" y="1896.2"><tspan x="531">一季度我局组织文化志愿者下乡村、进社区、</tspan><tspan x="531" dy="14.7">入学校针对孤寡老人、留守儿童等特殊弱势群</tspan><tspan x="531" dy="14.7">体多次开展慰问演出。同时为了打造节庆文化</tspan><tspan x="531" dy="14.7">品牌，先后举办了中国台湾市林夜市美食文化</tspan><tspan x="531" dy="14.7">节感恩迎新年文艺晚会、敬老院慰问演出、《</tspan><tspan x="531" dy="14.7">中国摄影报》走进湘北明珠华容影友联谊会，</tspan><tspan x="531" dy="14.7">聘请专家开展摄影专题讲座，在街道和学校举</tspan><tspan x="531" dy="14.7">办了为期4天的创建文明县城，争做雷锋传人</tspan><tspan x="531" dy="14.7">大型图片展，指导并协办了华都国际春节联欢</tspan><tspan x="531" dy="14.7">晚会，扶持县631文化发展有限公司在中富文</tspan><tspan x="531" dy="14.7">园主办中国美术学院师生书画展，召开了20_</tspan><tspan x="531" dy="14.7">___年度华容县文化志愿者工作总结表彰大会</tspan><tspan x="531" dy="14.7">，指导县中老年花鼓戏学唱团在沱江广场举行</tspan><tspan x="531" dy="14.7">了庆三八妇女节戏剧表演专场活动，协办了县</tspan><tspan x="531" dy="14.7">村镇建设杯希望的田野摄影大赛和采风活动，</tspan><tspan x="531" dy="14.7">出资派遣文化志愿者赴株洲市参加全省广场体</tspan><tspan x="531" dy="14.7">育舞蹈培训并发动全县广场舞团队参加全国第</tspan><tspan x="531" dy="14.7">二届群众文化艺术节活动，参与团县委组织的</tspan><tspan x="531" dy="14.7">学雷锋活动、县图书馆开展了现场捐书与免费</tspan><tspan x="531" dy="14.7">办证等活动。</tspan></text><line class="u" x1="524" y1="2184" x2="762" y2="2184"/></g>
<g id="p4-l3"><text class="t" x="734" y="2329">三、创新监管服务新模式繁荣文化市场</text><line class="u" x1="728" y1="2337" x2="933" y2="2337"/></g>
<g id="p4-l3a"><text class="t" x="474" y="2225.6"><tspan x="474">为维护我县文化市场平稳有序地发展，我局多</tspan><tspan x="474" dy="14.7">次组织开展元旦、春节等节日期间文化市场安</tspan><tspan x="474" dy="14.7">全生产检查和违规经营行为整治活动，并联合</tspan><tspan x="474" dy="14.7">公安、工商、教育、消防等部门，开展了春节</tspan><tspan x="474" dy="14.7">前扫黄打非专项整治行动。同时人防与技防相</tspan><tspan x="474" dy="14.7">结合加强监管，制定并印发了《华容县文化市</tspan><tspan x="474" dy="14.7">场管理制度》，确保了市场平稳、健康、有序</tspan><tspan x="474" dy="14.7">。</tspan></text><line class="u" x1="467" y1="2337" x2="707" y2="2337"/></g>
<g id="p4-l4"><text class="t" x="768" y="2602">四、加强保护利用历史文化遗产</text><line class="u" x1="763" y1="2610" x2="933" y2="2610"/></g>
<g id="p4-l4a"><text class="t" x="508" y="2377.5"><tspan x="508">一季度，我局加大非物质文化遗产保护力度。</tspan><tspan x="508" dy="14.7">2月份修订出版发行了《华容话》《华容故事</tspan><tspan x="508" dy="14.7">》《华容歌谣》等地方文化专著;编辑印行了</tspan><tspan x="508" dy="14.7">《华容民俗实物图片专辑》;完善了《关于进</tspan><tspan x="508" dy="14.7">一步推进非物质文化遗产保护进校园活动实施</tspan><tspan x="508" dy="14.7">方案》，在新建乡团城寺小学举行非遗进校园</tspan><tspan x="508" dy="14.7">暨华容县非物质文化遗产传承学校挂牌仪式，</tspan><tspan x="508" dy="14.7">成立了全省首支非物质文化遗产保护项目《华</tspan><tspan x="508" dy="14.7">容夹叶点子》少儿传承队，受到省市县各级媒</tspan><tspan x="508" dy="14.7">体宣传推介;向省非遗保护中心申报了《华容</tspan><tspan x="508" dy="14.7">夹叶点子》十三 五保护规划。</tspan></text><line class="u" x1="502" y1="2533" x2="745" y2="2533"/></g>
<g id="p4-l4b"><text class="t" x="508" y="2575.6"><tspan x="508">文物保护工作取得了阶段性成果。全面完成对</tspan><tspan x="508" dy="14.7">新公布的10处市级文物保护单位标志碑的安</tspan><tspan x="508" dy="14.7">装，并与所在乡镇及村场签订了保护协议;全</tspan><tspan x="508" dy="14.7">面启动了博物馆改扩建工程;继续开展华容县</tspan><tspan x="508" dy="14.7">第一次全国可移动文物普查工作，全面完成了</tspan><tspan x="508" dy="14.7">文物普查第二阶段文物认定、照相与录入工作</tspan><tspan x="508" dy="14.7">。配合沿江开发，完成了我县过江通道范围内</tspan><tspan x="508" dy="14.7">的文物调查工作。</tspan></text><line class="u" x1="502" y1="2687" x2="745" y2="2687"/></g>
<g id="p4-l5"><text class="t" x="768" y="2817">五、积极开发提升文化体育产业</text><line class="u" x1="763" y1="2825" x2="933" y2="2825"/></g>
<g id="p4-l5a"><text class="t" x="508" y="2728.3"><tspan x="508">采取政府扶持和政策倾斜支持等手段，引导一</tspan><tspan x="508" dy="14.7">批企业加盟公共文化建设。五星级三和国际影</tspan><tspan x="508" dy="14.7">城已完成提质升级改造工程，县631文化发展</tspan><tspan x="508" dy="14.7">有限公司着手筹划扩大中富文园经营规模，利</tspan><tspan x="508" dy="14.7">民根雕、世华堂等文化创意产业运转正常，华</tspan><tspan x="508" dy="14.7">容刘大夏文化园建设即将竣工，中国棉花博物</tspan><tspan x="508" dy="14.7">馆建设顺利推进。</tspan></text><line class="u" x1="502" y1="2825" x2="745" y2="2825"/></g>

<!-- 篇6 -->
<g id="p6-intro"><text class="t" x="700" y="2867.7"><tspan x="700">20__年公司第二季度的工作已全面结束，现</tspan><tspan x="700" dy="14.7">就有关各项财务指标完成情况做简单的分析说</tspan><tspan x="700" dy="14.7">明：本季度的总费用为x元和预算的x元比较</tspan><tspan x="700" dy="14.7">节约x元;和20__年同期的x元比较少x元，分析</tspan><tspan x="700" dy="14.7">其原因有以下几点：</tspan></text><line class="u" x1="694" y1="2935" x2="933" y2="2935"/></g>
<g id="p6-l1"><text class="t" x="600" y="2927">一、制造费用</text><line class="u" x1="593" y1="2935" x2="673" y2="2935"/></g>
<g id="p6-l2"><text class="t" x="700" y="3134.8"><tspan x="700">本季度的制造费用为x元，和预算的x元比较</tspan><tspan x="700" dy="14.7">少x元，其主要原因有以下几点：</tspan></text><line class="u" x1="694" y1="3158" x2="933" y2="3158"/></g>
<g id="p6-l2a"><text class="t" x="439" y="2977.1"><tspan x="439">1、预算中本季度的电费为x元，而在实际中示</tspan><tspan x="439" dy="14.7">范园并未转入电费，此项费用将在下季度一并</tspan><tspan x="439" dy="14.7">转。</tspan></text><line class="u" x1="434" y1="3015" x2="673" y2="3015"/></g>
<g id="p6-l2b"><text class="t" x="439" y="3056.1"><tspan x="439">2、__公司职工的补贴暂时停发，总经理本季</tspan><tspan x="439" dy="14.7">度的工资未发，董事会本季度的工资也未进账</tspan><tspan x="439" dy="14.7">(这些费用都将在下季度进账)。</tspan></text><line class="u" x1="434" y1="3094" x2="673" y2="3094"/></g>
<g id="p6-l2c"><text class="t" x="439" y="3279.8"><tspan x="439">3、预算中易耗品和其他项目在本季度并未发</tspan><tspan x="439" dy="14.7">生。</tspan></text><line class="u" x1="434" y1="3303" x2="673" y2="3303"/></g>
<g id="p6-l2c1"><text class="t" x="178" y="3135"><tspan x="178">本季度话费x元和预算的x元比较有所上升主</tspan><tspan x="178" dy="14.7">要是因为生态园总经理的电脑入网费在我单位</tspan><tspan x="178" dy="14.7">报账;其余的办公费x元、面包车x元、和预算</tspan><tspan x="178" dy="14.7">比较无太大出入。本季度增加办公费x元，差</tspan><tspan x="178" dy="14.7">旅费__元。和去年同期x元比较各项都较为稳</tspan><tspan x="178" dy="14.7">定。</tspan></text><line class="u" x1="173" y1="3217" x2="412" y2="3217"/></g>
<g id="p6-l3"><text class="t" x="315" y="3379">二、直接生产成本</text><line class="u" x1="308" y1="3387" x2="412" y2="3387"/></g>
<g id="p6-l3a"><text class="t" x="54" y="3258.3"><tspan x="54">从上表可以看出，除人工工资以外各项都有所</tspan><tspan x="54" dy="14.7">下降。其中化肥下降的原因预算时每亩为x元</tspan><tspan x="54" dy="14.7">，而实际为__元每亩;本季度雨水比较充分所</tspan><tspan x="54" dy="14.7">以电费也有所下降。人工工资上涨24原因主</tspan><tspan x="54" dy="14.7">要是夏剪次数比预算多一次，这样本季度的人</tspan><tspan x="54" dy="14.7">工工资就上涨相当大一笔二季度财务工作总结</tspan><tspan x="54" dy="14.7">心得体会。和去年同期的x元无可比性。</tspan></text><line class="u" x1="48" y1="3355" x2="287" y2="3355"/></g>
<g id="p6-l3b"><text class="t" x="54" y="3396.8"><tspan x="54">因为去年同期的工作安排和今年不同。以上</tspan><tspan x="54" dy="14.7">就是__公司本季度的工作总结。</tspan></text><line class="u" x1="48" y1="3420" x2="287" y2="3420"/></g>

<g id="watermark" style="mix-blend-mode:multiply">
<text class="wm" x="630" y="560" text-anchor="middle" textLength="680" lengthAdjust="spacing" transform="rotate(-31.5 630 520)">树图 <tspan class="l">shutu.cn</tspan></text>
<text class="wm" x="1940" y="560" text-anchor="middle" textLength="680" lengthAdjust="spacing" transform="rotate(-31.5 1940 520)">树图 <tspan class="l">shutu.cn</tspan></text>
<text class="wm" x="630" y="1550" text-anchor="middle" textLength="680" lengthAdjust="spacing" transform="rotate(-31.5 630 1510)">树图 <tspan class="l">shutu.cn</tspan></text>
<text class="wm" x="1940" y="1550" text-anchor="middle" textLength="680" lengthAdjust="spacing" transform="rotate(-31.5 1940 1510)">树图 <tspan class="l">shutu.cn</tspan></text>
<text class="wm" x="630" y="2555" text-anchor="middle" textLength="680" lengthAdjust="spacing" transform="rotate(-31.5 630 2515)">树图 <tspan class="l">shutu.cn</tspan></text>
<text class="wm" x="1940" y="2555" text-anchor="middle" textLength="680" lengthAdjust="spacing" transform="rotate(-31.5 1940 2515)">树图 <tspan class="l">shutu.cn</tspan></text>
<text class="wm" x="630" y="3560" text-anchor="middle" textLength="680" lengthAdjust="spacing" transform="rotate(-31.5 630 3520)">树图 <tspan class="l">shutu.cn</tspan></text>
<text class="wm" x="1940" y="3560" text-anchor="middle" textLength="680" lengthAdjust="spacing" transform="rotate(-31.5 1940 3520)">树图 <tspan class="l">shutu.cn</tspan></text>
</g>
</svg>
